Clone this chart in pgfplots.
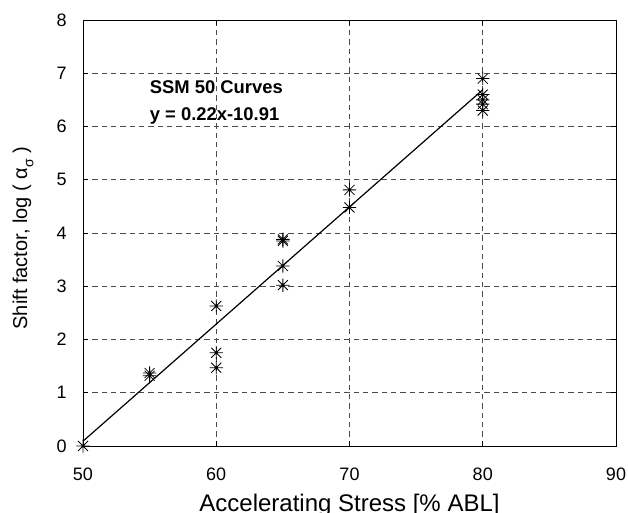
\documentclass[border=0pt]{standalone}
\usepackage{pgfplots}
\pgfplotsset{compat=1.18}
\usepackage{fontspec}
\setmainfont{Liberation Sans}

% MATLAB-like '*' marker: plus and cross together
\pgfdeclareplotmark{mstar}{%
  \pgfpathmoveto{\pgfqpoint{-\pgfplotmarksize}{0pt}}%
  \pgfpathlineto{\pgfqpoint{\pgfplotmarksize}{0pt}}%
  \pgfpathmoveto{\pgfqpoint{0pt}{-\pgfplotmarksize}}%
  \pgfpathlineto{\pgfqpoint{0pt}{\pgfplotmarksize}}%
  \pgfpathmoveto{\pgfqpoint{-0.75\pgfplotmarksize}{-0.75\pgfplotmarksize}}%
  \pgfpathlineto{\pgfqpoint{0.75\pgfplotmarksize}{0.75\pgfplotmarksize}}%
  \pgfpathmoveto{\pgfqpoint{-0.75\pgfplotmarksize}{0.75\pgfplotmarksize}}%
  \pgfpathlineto{\pgfqpoint{0.75\pgfplotmarksize}{-0.75\pgfplotmarksize}}%
  \pgfusepathqstroke}

\begin{document}
\begin{tikzpicture}
\begin{axis}[
  width=399.75pt, height=319.5pt,
  scale only axis,
  xmin=50, xmax=90, ymin=0, ymax=8,
  xtick={50,60,...,90},
  ytick={0,1,...,8},
  tick align=inside,
  tick style={black, thin},
  major tick length=4pt,
  grid=major,
  major grid style={dash pattern=on 4pt off 3pt, black!70, thin},
  axis line style={black, thin},
  /pgf/number format/assume math mode=true,
  ticklabel style={font=\fontsize{13.5}{14}\selectfont, inner sep=0pt},
  xticklabel style={anchor=base, yshift=-26.25pt},
  yticklabel style={anchor=east, xshift=-12pt},
  xlabel={Accelerating Stress [\% ABL]},
  ylabel={Shift factor, log ( α\raisebox{-0.6ex}{\fontsize{10.5}{11}\selectfont σ} )},
  xlabel style={font=\fontsize{18}{19}\selectfont, inner sep=0pt,
    at={(axis description cs:0.5,0)}, anchor=base, yshift=-48.75pt},
  ylabel style={font=\fontsize{15}{16}\selectfont, inner sep=0pt,
    at={(axis description cs:-0.105,0.488)}, anchor=base},
  clip=false,
]
\addplot[only marks, mark=mstar, mark size=5pt, black, mark options={line width=0.6pt}]
  coordinates {
  (50,0.0)
  (55,1.37) (55,1.32)
  (60,2.63) (60,1.75) (60,1.47)
  (65,3.88) (65,3.85) (65,3.38) (65,3.02)
  (70,4.81) (70,4.48)
  (80,6.90) (80,6.60) (80,6.50) (80,6.42) (80,6.30)
  };
\addplot[black, line width=0.9pt, no marks] coordinates {(50,0.09) (80,6.69)};
\node[anchor=base west, inner sep=0pt, font=\bfseries\fontsize{13.8}{14}\selectfont] at (axis cs:55,6.62) {SSM 50 Curves};
\node[anchor=base west, inner sep=0pt, font=\bfseries\fontsize{13.8}{14}\selectfont] at (axis cs:55,6.12) {y = 0.22x-10.91};
\coordinate (ll) at (rel axis cs:0,0);
\coordinate (ur) at (rel axis cs:1,1);
\end{axis}
\pgfresetboundingbox
\path ([shift={(-62.25pt,-50.25pt)}]ll) rectangle ([shift={(9pt,15pt)}]ur);
\end{tikzpicture}
\end{document}
